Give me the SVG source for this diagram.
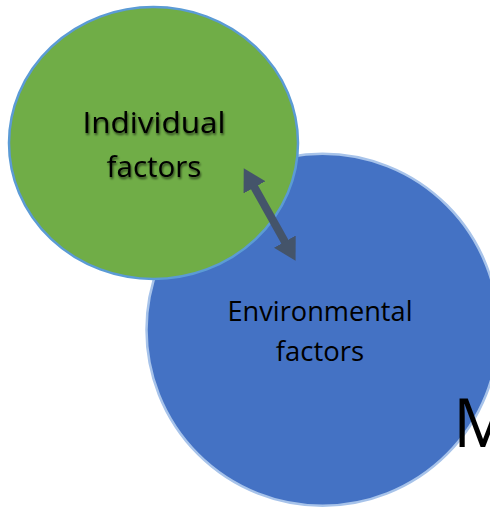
<svg xmlns="http://www.w3.org/2000/svg" width="490" height="507" viewBox="0 0 490 507">
  <defs>
    <style>
      .label { font-family: "Open Sans", "Noto Sans", "Liberation Sans", sans-serif; fill: #000; text-anchor: middle; }
      .node-shape { stroke-width: 2.5; }
      .link { stroke: #44546A; stroke-width: 8; fill: none; }
    </style>
    <marker id="head" markerUnits="userSpaceOnUse" markerWidth="22" markerHeight="25" refX="1" refY="12.5" orient="auto-start-reverse" viewBox="0 0 22 25">
      <path d="M0,0 L22,12.5 L0,25 Z" fill="#44546A"/>
    </marker>
    <filter id="soft-shadow" x="-10%" y="-10%" width="120%" height="130%">
      <feGaussianBlur in="SourceAlpha" stdDeviation="1.2"/>
      <feOffset dx="1" dy="1.5" result="blur"/>
      <feComponentTransfer><feFuncA type="linear" slope="0.6"/></feComponentTransfer>
      <feMerge><feMergeNode/><feMergeNode in="SourceGraphic"/></feMerge>
    </filter>
  </defs>

  <rect x="0" y="0" width="490" height="507" fill="#FFFFFF"/>

  <g id="environmental">
    <circle class="node-shape" cx="322.5" cy="329.7" r="176" fill="#4472C4" stroke="#A7C3EA"/>
    <text class="label" font-size="27.5" x="320" y="321" textLength="185" lengthAdjust="spacingAndGlyphs">Environmental</text>
    <text class="label" font-size="27.5" x="320" y="361">factors</text>
  </g>

  <g id="individual">
    <ellipse class="node-shape" cx="153.5" cy="143" rx="144.5" ry="136" fill="#70AD47" stroke="#5B9BD5" stroke-width="2"/>
    <g filter="url(#soft-shadow)">
      <text class="label" font-size="29.5" x="154" y="133" textLength="143" lengthAdjust="spacingAndGlyphs">Individual</text>
      <text class="label" font-size="29.5" x="154" y="177">factors</text>
    </g>
  </g>

  <g id="connectors">
    <path class="link" d="M254,186.5 L285.3,242.5" marker-start="url(#head)" marker-end="url(#head)"/>
  </g>

  <text x="453" y="447" font-family="Open Sans, Noto Sans, Liberation Sans, sans-serif" font-size="67" fill="#000">M</text>
</svg>
